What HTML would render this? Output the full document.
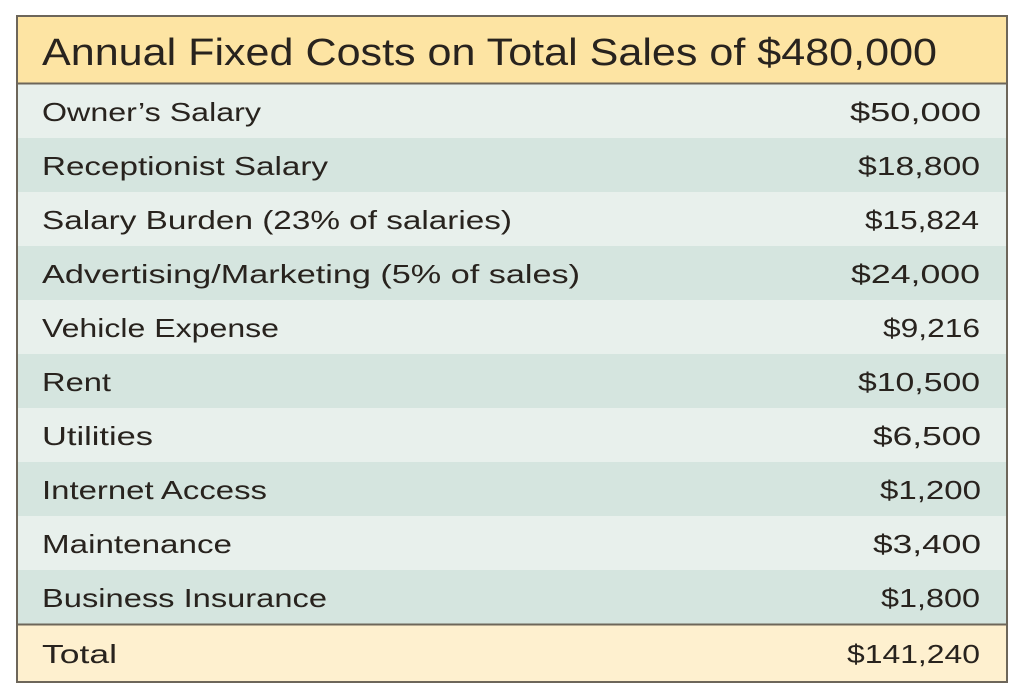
<!DOCTYPE html>
<html>
<head>
<meta charset="utf-8">
<style>
html,body{margin:0;padding:0;background:#ffffff;}
svg{display:block;}
text{font-family:"Liberation Sans",Arial,sans-serif;fill:#28231e;}
</style>
</head>
<body>
<svg width="1024" height="698" viewBox="0 0 1024 698" xmlns="http://www.w3.org/2000/svg">
  <rect x="0" y="0" width="1024" height="698" fill="#ffffff"/>
  <!-- header -->
  <rect x="17" y="16" width="990" height="68" fill="#fde4a3"/>
  <!-- rows -->
  <rect x="17" y="84" width="990" height="54" fill="#e8f0ec"/>
  <rect x="17" y="138" width="990" height="54" fill="#d5e5df"/>
  <rect x="17" y="192" width="990" height="54" fill="#e8f0ec"/>
  <rect x="17" y="246" width="990" height="54" fill="#d5e5df"/>
  <rect x="17" y="300" width="990" height="54" fill="#e8f0ec"/>
  <rect x="17" y="354" width="990" height="54" fill="#d5e5df"/>
  <rect x="17" y="408" width="990" height="54" fill="#e8f0ec"/>
  <rect x="17" y="462" width="990" height="54" fill="#d5e5df"/>
  <rect x="17" y="516" width="990" height="54" fill="#e8f0ec"/>
  <rect x="17" y="570" width="990" height="54" fill="#d5e5df"/>
  <!-- total -->
  <rect x="17" y="624" width="990" height="58" fill="#fef0cf"/>
  <!-- lines -->
  <line x1="17" y1="83.5" x2="1007" y2="83.5" stroke="#6d665a" stroke-width="2"/>
  <line x1="17" y1="624.5" x2="1007" y2="624.5" stroke="#6d665a" stroke-width="2"/>
  <rect x="17" y="16" width="990" height="666" fill="none" stroke="#6d665a" stroke-width="2"/>

  <!-- title -->
  <text x="42" y="65" font-size="38" textLength="895" lengthAdjust="spacingAndGlyphs">Annual Fixed Costs on Total Sales of $480,000</text>

  <!-- labels -->
  <g font-size="26">
    <text x="42" y="121" textLength="219" lengthAdjust="spacingAndGlyphs">Owner’s Salary</text>
    <text x="42" y="175" textLength="286" lengthAdjust="spacingAndGlyphs">Receptionist Salary</text>
    <text x="42" y="229" textLength="470" lengthAdjust="spacingAndGlyphs">Salary Burden (23% of salaries)</text>
    <text x="42" y="283" textLength="538" lengthAdjust="spacingAndGlyphs">Advertising/Marketing (5% of sales)</text>
    <text x="42" y="337" textLength="237" lengthAdjust="spacingAndGlyphs">Vehicle Expense</text>
    <text x="42" y="391" textLength="69" lengthAdjust="spacingAndGlyphs">Rent</text>
    <text x="42" y="445" textLength="111" lengthAdjust="spacingAndGlyphs">Utilities</text>
    <text x="42" y="499" textLength="225" lengthAdjust="spacingAndGlyphs">Internet Access</text>
    <text x="42" y="553" textLength="190" lengthAdjust="spacingAndGlyphs">Maintenance</text>
    <text x="42" y="607" textLength="285" lengthAdjust="spacingAndGlyphs">Business Insurance</text>
    <text x="42" y="663" textLength="75" lengthAdjust="spacingAndGlyphs">Total</text>
  </g>

  <!-- values -->
  <g font-size="26">
    <text x="850" y="121" textLength="131" lengthAdjust="spacingAndGlyphs">$50,000</text>
    <text x="858" y="175" textLength="122" lengthAdjust="spacingAndGlyphs">$18,800</text>
    <text x="865" y="229" textLength="114" lengthAdjust="spacingAndGlyphs">$15,824</text>
    <text x="851" y="283" textLength="129" lengthAdjust="spacingAndGlyphs">$24,000</text>
    <text x="883" y="337" textLength="97" lengthAdjust="spacingAndGlyphs">$9,216</text>
    <text x="858" y="391" textLength="122" lengthAdjust="spacingAndGlyphs">$10,500</text>
    <text x="873" y="445" textLength="108" lengthAdjust="spacingAndGlyphs">$6,500</text>
    <text x="880" y="499" textLength="101" lengthAdjust="spacingAndGlyphs">$1,200</text>
    <text x="873" y="553" textLength="108" lengthAdjust="spacingAndGlyphs">$3,400</text>
    <text x="881" y="607" textLength="99" lengthAdjust="spacingAndGlyphs">$1,800</text>
    <text x="847" y="663" textLength="133" lengthAdjust="spacingAndGlyphs">$141,240</text>
  </g>
</svg>
</body>
</html>
